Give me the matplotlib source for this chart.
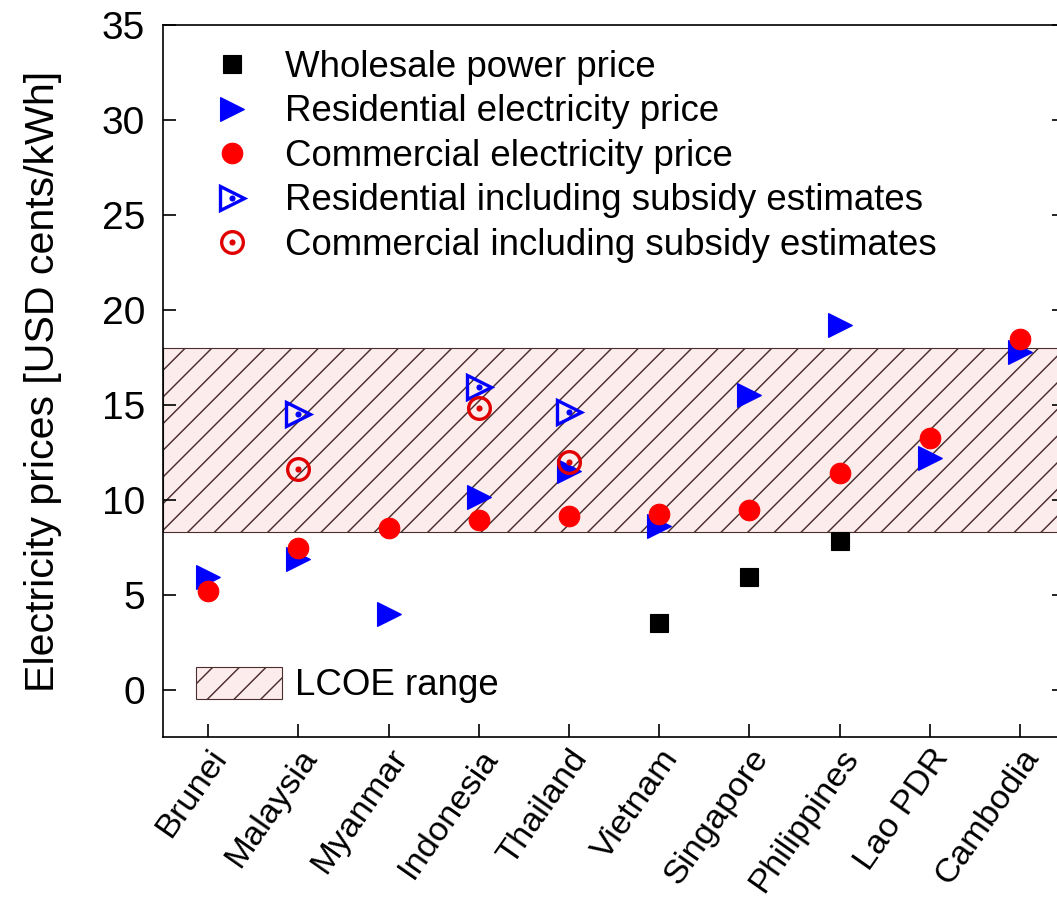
import numpy as np
import matplotlib
matplotlib.use("Agg")
from matplotlib import pyplot as plt
from matplotlib.lines import Line2D
from matplotlib.patches import Patch

nan = np.nan
countries = ["Brunei", "Malaysia", "Myanmar", "Indonesia", "Thailand",
             "Vietnam", "Singapore", "Philippines", "Lao PDR", "Cambodia"]
wholesale = [nan, nan, nan, nan, nan, 3.5, 5.95, 7.8, nan, nan]
residential = [5.9, 6.9, 4.0, 10.15, 11.5, 8.6, 15.5, 19.2, 12.2, 17.8]
commercial = [5.2, 7.45, 8.5, 8.95, 9.15, 9.25, 9.45, 11.4, 13.25, 18.45]
residential_sub = [nan, 14.5, nan, 15.95, 14.6, nan, nan, nan, nan, nan]
commercial_sub = [nan, 11.6, nan, 14.85, 12.0, nan, nan, nan, nan, nan]
lcoe_low, lcoe_high = 8.3, 18.0

plt.rcParams['font.family'] = ['Liberation Sans', 'DejaVu Sans']
plt.rcParams['hatch.linewidth'] = 1.3

BLUE = '#0000ff'
RED = '#ff0000'
DARKRED = '#e00000'
HATCH_EDGE = '#4a2e2e'
HATCH_FACE = '#fcecec'

fig = plt.figure(figsize=(1057 / 80, 898 / 80), dpi=80)
ax = fig.add_axes([0.1542, 0.1793, 0.8534, 0.7929])
x = np.arange(len(countries))

ax.axhspan(lcoe_low, lcoe_high, facecolor=HATCH_FACE, edgecolor=HATCH_EDGE,
           hatch='/', linewidth=1.0, zorder=1)

ax.plot(x, wholesale, 's', color='black', ms=15.5, zorder=3)
ax.plot(x, residential, '>', color=BLUE, ms=21, zorder=3)
ax.plot(x, commercial, 'o', color=RED, ms=18.5, zorder=4)
ax.plot(x, residential_sub, '>', mfc='none', mec=BLUE, mew=3, ms=22, zorder=5)
ax.plot(x, residential_sub, 'o', color=BLUE, ms=4.5, zorder=5)
ax.plot(x, commercial_sub, 'o', mfc='none', mec=DARKRED, mew=3, ms=19.5, zorder=5)
ax.plot(x, commercial_sub, 'o', color=DARKRED, ms=4.5, zorder=5)

ax.set_xlim(-0.5, 9.5)
ax.set_ylim(-2.5, 35)
ax.set_yticks(np.arange(0, 36, 5))
ax.set_xticks(x)
ax.set_xticklabels(countries, rotation=55, ha='right', va='top',
                   rotation_mode='anchor')
ax.tick_params(axis='y', direction='in', length=12, width=1.5, labelsize=35,
               pad=16, right=True)
ax.tick_params(axis='x', direction='in', length=12, width=1.5, labelsize=31,
               pad=6)
ax.set_ylabel('Electricity prices [USD cents/kWh]', fontsize=37, labelpad=36)
for s in ax.spines.values():
    s.set_linewidth(1.5)

h_whole = Line2D([], [], ls='none', marker='s', color='black', ms=15.5)
h_res = Line2D([], [], ls='none', marker='>', color=BLUE, ms=21)
h_com = Line2D([], [], ls='none', marker='o', color=RED, ms=18.5)
h_res_sub = (Line2D([], [], ls='none', marker='>', mfc='none', mec=BLUE, mew=3, ms=22),
             Line2D([], [], ls='none', marker='o', color=BLUE, ms=4.5))
h_com_sub = (Line2D([], [], ls='none', marker='o', mfc='none', mec=DARKRED, mew=3, ms=19.5),
             Line2D([], [], ls='none', marker='o', color=DARKRED, ms=4.5))

leg1 = ax.legend([h_whole, h_res, h_com, h_res_sub, h_com_sub],
                 ['Wholesale power price', 'Residential electricity price',
                  'Commercial electricity price',
                  'Residential including subsidy estimates',
                  'Commercial including subsidy estimates'],
                 loc='upper left', bbox_to_anchor=(0.056, 0.965), frameon=False,
                 fontsize=33, numpoints=1, handlelength=1.0, handletextpad=0.94,
                 labelspacing=0.26, borderpad=0, borderaxespad=0)
ax.add_artist(leg1)

h_lcoe = Patch(facecolor=HATCH_FACE, edgecolor=HATCH_EDGE, hatch='/', linewidth=1.0)
ax.legend([h_lcoe], ['LCOE range'], loc='center left',
          bbox_to_anchor=(0.0365, 0.073), frameon=False, fontsize=33,
          handlelength=2.36, handleheight=0.98, handletextpad=0.33,
          borderpad=0, borderaxespad=0)

fig.savefig('out.png', dpi=80)
